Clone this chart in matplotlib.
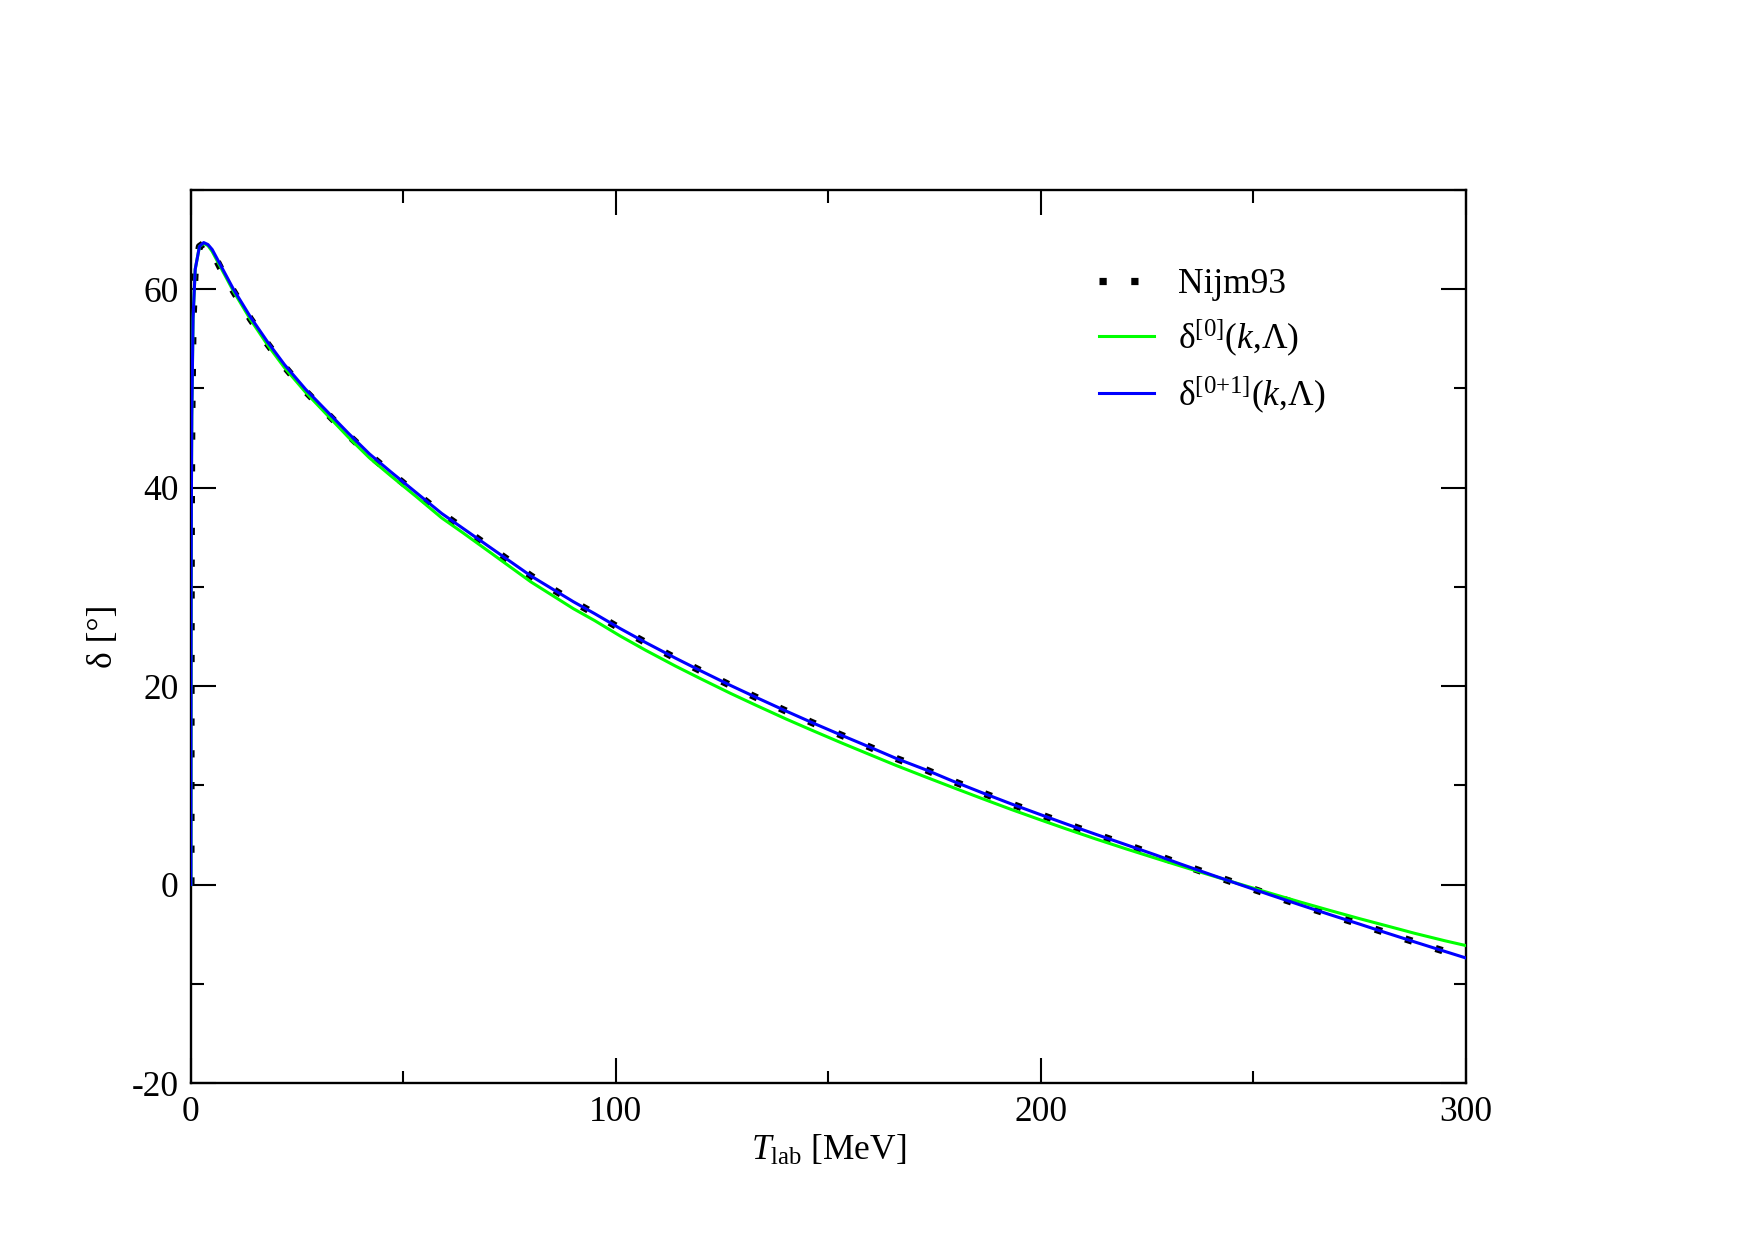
import matplotlib
matplotlib.use("Agg")
import matplotlib.pyplot as plt
import numpy as np

# Data
t_lab = [0, 0.01, 0.05, 0.1, 0.2, 0.5, 1, 2, 3, 4, 5, 7, 10, 14, 18, 22, 27, 32, 37, 42,
         47, 53, 59, 64, 70, 80, 90, 95, 101, 107, 114, 120, 127, 133, 140, 146, 153,
         160, 166, 173, 179, 186, 193, 200, 206, 213, 220, 227, 233, 240, 247, 254, 261,
         268, 275, 281, 288, 295, 300]

nijm93 = [0, 14.6, 29.8, 38.4, 47.3, 57.1, 62.0, 64.3, 64.6, 64.4, 63.8, 62.1, 59.8, 57.0,
          54.5, 52.2, 49.7, 47.5, 45.3, 43.3, 41.5, 39.4, 37.4, 35.9, 34.1, 31.1, 28.5,
          27.3, 25.8, 24.39, 22.82, 21.53, 20.06, 18.86, 17.49, 16.35, 15.06, 13.8, 12.7,
          11.55, 10.47, 9.28, 8.13, 7.03, 6.1, 5.05, 4.02, 2.98, 2.05, 1.0, -0.03, -1.05,
          -2.05, -3.03, -3.99, -4.83, -5.79, -6.73, -7.4]

delta_0 = [0, 14.6, 29.8, 38.4, 47.3, 57.1, 62.0, 64.3, 64.6, 64.4, 63.8, 62.2, 59.8, 56.95,
           54.4, 52.1, 49.6, 47.35, 45.1, 43.0, 41.2, 39.1, 36.95, 35.45, 33.6, 30.5, 27.8,
           26.6, 25.05, 23.61, 22.02, 20.73, 19.26, 18.06, 16.69, 15.57, 14.29, 13.05,
           11.99, 10.82, 9.83, 8.69, 7.57, 6.5, 5.6, 4.58, 3.6, 2.65, 1.85, 0.93, 0.02,
           -0.88, -1.76, -2.61, -3.44, -4.12, -4.92, -5.66, -6.15]

delta_01 = [0, 14.6, 29.8, 38.4, 47.3, 57.1, 62.0, 64.3, 64.7, 64.5, 64.0, 62.4, 60.0, 57.2,
            54.7, 52.4, 49.9, 47.7, 45.5, 43.4, 41.6, 39.5, 37.4, 35.9, 34.1, 31.1, 28.5,
            27.3, 25.8, 24.39, 22.82, 21.53, 20.06, 18.86, 17.49, 16.35, 15.06, 13.8, 12.7,
            11.55, 10.47, 9.28, 8.13, 7.03, 6.1, 5.05, 4.02, 2.98, 2.05, 1.0, -0.03, -1.05,
            -2.05, -3.03, -3.99, -4.83, -5.79, -6.73, -7.4]

plt.rcParams['font.family'] = ['Liberation Serif', 'DejaVu Serif']
plt.rcParams['mathtext.fontset'] = 'custom'
plt.rcParams['mathtext.rm'] = 'Liberation Serif'
plt.rcParams['mathtext.it'] = 'Liberation Serif:italic'
plt.rcParams['font.size'] = 25.5
plt.rcParams['axes.unicode_minus'] = False

fig = plt.figure(figsize=(17.55, 12.4), dpi=100)
ax = fig.add_axes([0.1088, 0.1266, 0.8353 - 0.1088, 0.8468 - 0.1266])

ax.plot(t_lab, nijm93, color='black', lw=5.2, linestyle=(0, (1, 3.4)),
        dash_capstyle='butt', label='Nijm93', zorder=2)
ax.plot(t_lab, delta_0, color='#00ff00', lw=2.2, label='δ$^{[0]}$($k$,Λ)', zorder=3)
ax.plot(t_lab, delta_01, color='#0000ff', lw=2.2, label='δ$^{[0{+}1]}$($k$,Λ)', zorder=4)

ax.set_xlim(0, 300)
ax.set_ylim(-20, 70)
ax.set_xticks([0, 100, 200, 300])
ax.set_xticks([50, 150, 250], minor=True)
ax.set_yticks([-20, 0, 20, 40, 60])
ax.set_yticks([-10, 10, 30, 50, 70], minor=True)

ax.tick_params(which='both', direction='in', top=True, right=True, width=1.5)
ax.tick_params(which='major', length=18, pad=9)
ax.tick_params(which='minor', length=9)
for s in ax.spines.values():
    s.set_linewidth(1.7)

ax.set_xlabel('$T_{\\rm lab}$ [MeV]', labelpad=4)
ax.set_ylabel('δ [°]', labelpad=8)

ax.legend(loc='upper left', bbox_to_anchor=(0.698, 0.932), frameon=False,
          borderpad=0, handlelength=1.55, handletextpad=0.7, labelspacing=0.45)

fig.savefig('out.png', dpi=100)
